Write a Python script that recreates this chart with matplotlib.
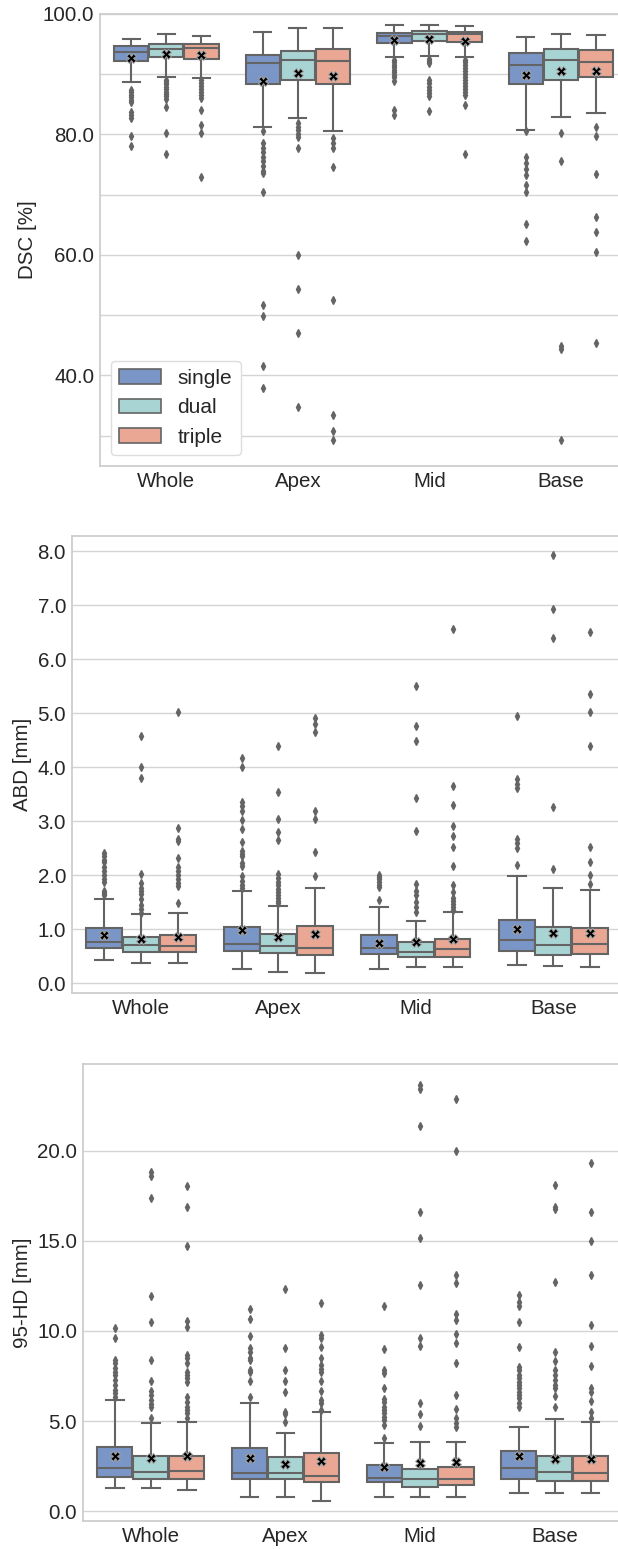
import numpy as np
import matplotlib
matplotlib.use('Agg')
import matplotlib.pyplot as plt
from matplotlib.patches import Patch

plt.rcParams['font.family'] = ['Liberation Sans', 'DejaVu Sans']

F = 14.8
TXT = '#262626'
GRID = '#d4d4d4'
LINE = '#646464'

regions = ['Whole', 'Apex', 'Mid', 'Base']
methods = ['single', 'dual', 'triple']
colors = ['#7a96c7', '#a8d5d4', '#e9a794']

# ---- DSC [%]  (rows: single, dual, triple / cols: Whole, Apex, Mid, Base)
dsc_med = [[93.6, 91.9, 96.4, 91.5], [94.2, 92.4, 96.6, 92.4], [94.3, 92.2, 96.6, 92.1]]
dsc_q1 = [[92.2, 88.3, 95.2, 88.3], [92.8, 89.1, 95.5, 89.1], [92.6, 88.4, 95.3, 89.5]]
dsc_q3 = [[94.6, 93.2, 96.8, 93.5], [95.0, 93.8, 97.1, 94.1], [95.0, 94.2, 97.0, 94.0]]
dsc_lo = [[88.7, 81.2, 92.8, 80.7], [89.5, 82.8, 93.0, 82.9], [89.4, 80.6, 92.9, 83.5]]
dsc_hi = [[95.8, 97.0, 98.2, 96.2], [96.7, 97.6, 98.2, 96.6], [96.4, 97.6, 98.0, 96.5]]
dsc_mean = [[92.7, 88.9, 95.6, 89.8], [93.4, 90.2, 95.9, 90.5], [93.1, 89.7, 95.5, 90.6]]
dsc_fliers = [
    [[87.4, 87.0, 86.6, 86.2, 85.7, 85.3, 83.8, 83.3, 82.7, 79.7, 78.1],
     [80.6, 78.5, 77.8, 77.0, 76.3, 75.5, 74.8, 74.0, 73.6, 70.4, 51.6, 49.8, 41.5, 37.9],
     [92.4, 92.0, 91.6, 91.2, 90.7, 90.3, 89.9, 89.5, 88.8, 84.1, 83.3],
     [80.6, 76.3, 75.3, 74.3, 73.3, 71.6, 70.4, 65.1, 62.3]],
    [[89.1, 88.7, 88.3, 87.9, 87.5, 87.1, 86.7, 86.3, 85.9, 84.6, 80.3, 76.8],
     [81.9, 81.3, 80.7, 80.1, 79.6, 77.7, 60.0, 54.3, 47.0, 34.8],
     [92.6, 92.2, 91.8, 89.1, 88.5, 87.9, 87.3, 86.8, 86.3, 83.9],
     [80.3, 75.5, 44.8, 44.3, 29.3]],
    [[89.0, 88.5, 88.0, 87.5, 87.0, 86.5, 86.0, 84.0, 81.5, 80.3, 73.0],
     [79.4, 78.6, 77.8, 74.6, 52.5, 33.4, 30.8, 29.3],
     [92.4, 92.0, 91.5, 91.0, 90.5, 90.0, 89.5, 89.0, 88.5, 88.0, 87.5, 87.0, 86.6, 84.9, 76.7],
     [81.2, 79.8, 73.5, 66.3, 63.8, 60.4, 45.4]],
]

# ---- ABD [mm]
abd_med = [[0.77, 0.73, 0.65, 0.80], [0.71, 0.70, 0.58, 0.72], [0.69, 0.65, 0.63, 0.73]]
abd_q1 = [[0.65, 0.60, 0.54, 0.61], [0.58, 0.56, 0.49, 0.52], [0.59, 0.52, 0.49, 0.54]]
abd_q3 = [[1.03, 1.04, 0.90, 1.17], [0.86, 0.92, 0.77, 1.05], [0.89, 1.07, 0.83, 1.02]]
abd_lo = [[0.44, 0.27, 0.27, 0.35], [0.38, 0.21, 0.30, 0.33], [0.38, 0.20, 0.31, 0.31]]
abd_hi = [[1.56, 1.71, 1.42, 1.98], [1.29, 1.44, 1.15, 1.77], [1.30, 1.77, 1.32, 1.73]]
abd_mean = [[0.90, 0.99, 0.75, 1.00], [0.83, 0.86, 0.77, 0.93], [0.86, 0.91, 0.83, 0.93]]
abd_fliers = [
    [[2.41, 2.36, 2.29, 2.24, 2.16, 2.08, 2.0, 1.93, 1.88, 1.71, 1.67, 1.63],
     [4.18, 4.0, 3.35, 3.28, 3.2, 3.03, 2.86, 2.62, 2.45, 2.40, 2.35, 2.22, 2.18, 1.98, 1.90, 1.82, 1.77],
     [2.0, 1.97, 1.93, 1.88, 1.82, 1.78, 1.54],
     [4.94, 3.78, 3.70, 3.62, 2.68, 2.60, 2.50, 2.20]],
    [[4.57, 4.0, 3.80, 2.02, 1.86, 1.77, 1.71, 1.65, 1.56, 1.46, 1.37, 1.31],
     [4.40, 3.55, 3.05, 2.80, 2.66, 2.03, 1.95, 1.88, 1.82, 1.75, 1.70, 1.64, 1.58, 1.53, 1.49],
     [5.51, 4.76, 4.48, 3.44, 2.83, 1.84, 1.72, 1.63, 1.50, 1.42, 1.33],
     [7.92, 6.93, 6.39, 3.26, 2.12]],
    [[5.02, 2.87, 2.67, 2.63, 2.32, 2.15, 2.08, 2.0, 1.93, 1.86, 1.81, 1.48],
     [4.91, 4.81, 4.65, 3.20, 3.05, 2.43, 1.98],
     [6.55, 3.65, 3.30, 2.92, 2.73, 2.52, 2.17, 1.83, 1.70, 1.58, 1.52, 1.47, 1.42, 1.36],
     [6.51, 5.36, 5.02, 4.39, 2.53, 2.24, 2.0, 1.84]],
]

# ---- 95-HD [mm]
hd_med = [[2.38, 2.14, 1.87, 2.38], [2.16, 2.14, 1.79, 2.16], [2.24, 1.98, 1.77, 2.11]]
hd_q1 = [[1.89, 1.77, 1.61, 1.77], [1.77, 1.77, 1.33, 1.68], [1.77, 1.65, 1.46, 1.68]]
hd_q3 = [[3.59, 3.49, 2.55, 3.36], [3.07, 2.99, 2.37, 3.09], [3.07, 3.22, 2.48, 3.05]]
hd_lo = [[1.31, 0.81, 0.81, 1.04], [1.31, 0.81, 0.81, 1.04], [1.16, 0.57, 0.81, 1.04]]
hd_hi = [[6.17, 5.99, 3.79, 4.69], [4.90, 4.36, 3.86, 5.14], [4.94, 5.53, 3.83, 4.97]]
hd_mean = [[3.09, 2.98, 2.46, 3.09], [2.98, 2.64, 2.66, 2.92], [3.05, 2.79, 2.72, 2.88]]
hd_fliers = [
    [[10.15, 9.59, 8.39, 8.21, 7.93, 7.74, 7.56, 7.28, 7.0, 6.73, 6.54, 6.32],
     [11.19, 10.64, 9.74, 9.04, 8.85, 8.48, 8.39, 7.84, 7.74, 7.23, 6.32],
     [11.39, 9.0, 7.84, 7.65, 6.82, 6.21, 6.08, 5.80, 5.62, 5.43, 5.25, 5.06, 4.79, 4.09],
     [12.0, 11.6, 11.37, 10.48, 9.09, 8.02, 7.84, 7.56, 7.38, 7.19, 7.0, 6.82, 6.64, 6.45, 6.27, 5.99, 5.80]],
    [[18.82, 18.6, 17.39, 11.95, 10.52, 8.39, 7.23, 6.69, 6.45, 6.17, 5.93, 5.80, 5.16],
     [12.35, 9.04, 7.84, 7.23, 6.6, 5.53, 5.38, 4.97],
     [23.62, 23.43, 21.36, 16.58, 15.14, 12.52, 9.59, 9.17, 5.99, 5.40, 4.71],
     [18.08, 16.88, 16.75, 12.74, 8.85, 8.35, 7.84, 7.56, 7.28, 7.0, 6.82, 6.40, 5.80]],
    [[18.04, 16.88, 14.73, 10.57, 10.24, 8.67, 8.48, 8.21, 7.74, 7.56, 7.38, 7.19, 6.32, 6.08, 5.80, 5.62, 5.43, 5.16],
     [11.56, 9.78, 9.6, 9.13, 8.48, 8.11, 7.9, 7.74, 7.23, 6.69, 6.17, 5.98, 5.62],
     [22.84, 19.96, 13.09, 12.63, 10.93, 10.6, 9.83, 9.32, 8.24, 6.45, 5.67, 5.16, 4.9, 4.66],
     [19.33, 16.6, 14.98, 13.09, 10.33, 9.17, 8.06, 6.82, 6.64, 6.14, 5.53, 5.16]],
]


def draw_boxes(ax, med, q1, q3, lo, hi, mean, fliers):
	w = 0.8 / len(methods)
	for h in range(len(methods)):
		stats = []
		for g in range(len(regions)):
			stats.append(dict(med=med[h][g], q1=q1[h][g], q3=q3[h][g],
			                  whislo=lo[h][g], whishi=hi[h][g],
			                  mean=mean[h][g], fliers=fliers[h][g]))
		pos = np.arange(len(regions)) + (h - 1) * w
		ax.bxp(stats, positions=pos, widths=w * 0.98, patch_artist=True,
		       showmeans=True, manage_ticks=False,
		       boxprops=dict(facecolor=colors[h], edgecolor=LINE, linewidth=1.5),
		       medianprops=dict(color=LINE, linewidth=1.5),
		       whiskerprops=dict(color=LINE, linewidth=1.5),
		       capprops=dict(color=LINE, linewidth=1.5),
		       flierprops=dict(marker='d', markerfacecolor=LINE, markeredgecolor=LINE,
		                       markersize=4.2, linestyle='none'),
		       meanprops=dict(marker='X', markerfacecolor='black', markeredgecolor='0.65',
		                      markersize=7, markeredgewidth=0.7))
	ax.set_xlim(-0.5, len(regions) - 0.5)
	ax.set_xticks(np.arange(len(regions)))
	ax.set_xticklabels(regions)
	ax.grid(axis='y', color=GRID, linewidth=1)
	ax.grid(axis='x', visible=False)
	ax.set_axisbelow(True)
	for sp in ax.spines.values():
		sp.set_color('#cccccc')
		sp.set_linewidth(1.25)
	ax.tick_params(length=0, labelsize=F, colors=TXT, pad=4.5)


fig = plt.figure(figsize=(6.18, 15.49), dpi=100)

# DSC
ax1 = fig.add_axes([0.1626, 0.6994, 0.8516, 0.2916])
draw_boxes(ax1, dsc_med, dsc_q1, dsc_q3, dsc_lo, dsc_hi, dsc_mean, dsc_fliers)
ax1.set_ylim(25, 100)
yt = np.arange(30, 101, 10)
ax1.set_yticks(yt)
ax1.set_yticklabels(['%.1f' % v if v % 20 == 0 else '' for v in yt])
ax1.set_ylabel('DSC [%]', fontsize=F, color=TXT)
handles = [Patch(facecolor=colors[i], edgecolor=LINE, linewidth=1.2, label=methods[i])
           for i in range(len(methods))]
leg = ax1.legend(handles=handles, loc='lower left', fontsize=15, frameon=True,
                 fancybox=True, framealpha=1)
leg.get_frame().set_edgecolor('#dddddd')
for t in leg.get_texts():
	t.set_color(TXT)

# ABD
ax2 = fig.add_axes([0.117, 0.3588, 0.8895, 0.2952])
draw_boxes(ax2, abd_med, abd_q1, abd_q3, abd_lo, abd_hi, abd_mean, abd_fliers)
ax2.set_ylim(-0.18, 8.28)
ax2.set_yticks(np.arange(0, 9, 1))
ax2.set_yticklabels(['%.1f' % v for v in np.arange(0, 9, 1)])
ax2.set_ylabel('ABD [mm]', fontsize=F, color=TXT)

# 95-HD
ax3 = fig.add_axes([0.1351, 0.0183, 0.8714, 0.2948])
draw_boxes(ax3, hd_med, hd_q1, hd_q3, hd_lo, hd_hi, hd_mean, hd_fliers)
ax3.set_ylim(-0.52, 24.8)
ax3.set_yticks(np.arange(0, 21, 5))
ax3.set_yticklabels(['%.1f' % v for v in np.arange(0, 21, 5)])
ax3.set_ylabel('95-HD [mm]', fontsize=F, color=TXT)

plt.savefig('out.png', dpi=100)
